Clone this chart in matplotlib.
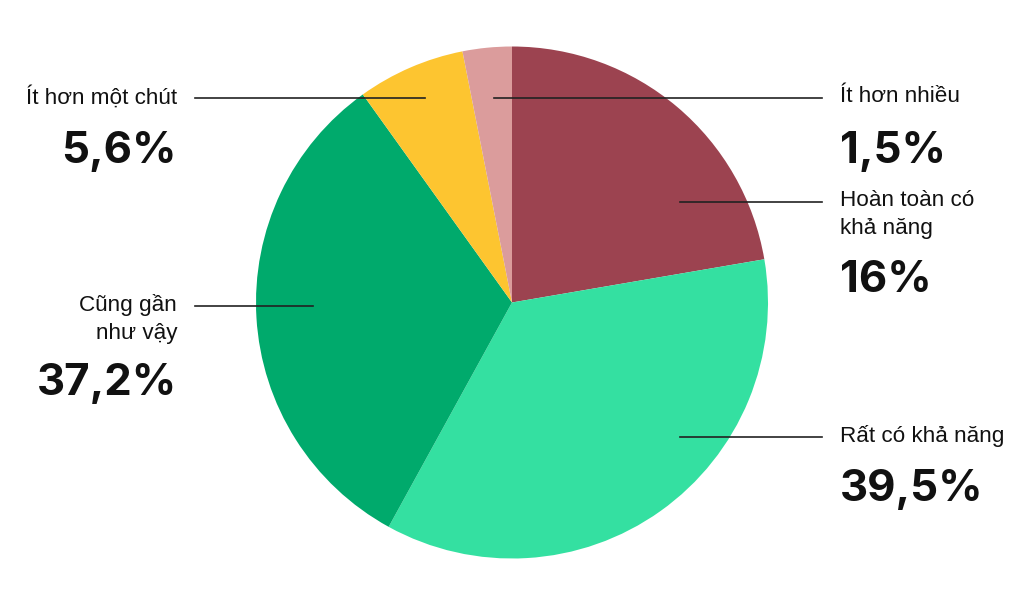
import matplotlib.pyplot as plt

# slice sizes as drawn, clockwise from 12 o'clock
categories = ["Hoàn toàn có\nkhả năng", "Rất có khả năng", "Cũng gần\nnhư vậy",
              "Ít hơn một chút", "Ít hơn nhiều"]
shares = [22.3, 35.7, 32.1, 6.8, 3.1]
pct_labels = ["16%", "39,5%", "37,2%", "5,6%", "1,5%"]
colors = ["#9c4350", "#34e0a1", "#00aa6c", "#fdc530", "#db9c9c"]

W, H = 1024, 604
fig = plt.figure(figsize=(W / 100, H / 100), dpi=100)
ax = fig.add_axes([0, 0, 1, 1])

ax.pie(shares, colors=colors, startangle=90, counterclock=False,
       center=(512, H - 302.5), radius=256, frame=True,
       wedgeprops=dict(linewidth=0))
ax.set_xlim(0, W)
ax.set_ylim(0, H)
ax.set_aspect("equal")
ax.axis("off")

# label layout: (line x0, line x1, line y, text x, align)
layout = [
    (680, 822, 202, 840, "left"),
    (680, 822, 437, 840, "left"),
    (195, 313, 306, 177, "right"),
    (195, 425, 98, 177, "right"),
    (494, 822, 98, 840, "left"),
]

for cat, pct, (x0, x1, y, tx, ha) in zip(categories, pct_labels, layout):
    ax.plot([x0, x1], [H - y, H - y], color="#222222", lw=1.2)
    nlines = cat.count("\n") + 1
    ax.text(tx, H - y + 12, cat, ha=ha, va="top", fontsize=16.2,
            family="Liberation Sans", linespacing=1.42, color="#111111")
    ty = y + 53 + 25 * (nlines - 1)
    ax.text(tx, H - ty, pct, ha=ha, va="center", fontsize=31.5,
            family="Inter", fontweight="bold", color="#111111")

fig.savefig("out.png", dpi=100, facecolor="white")
